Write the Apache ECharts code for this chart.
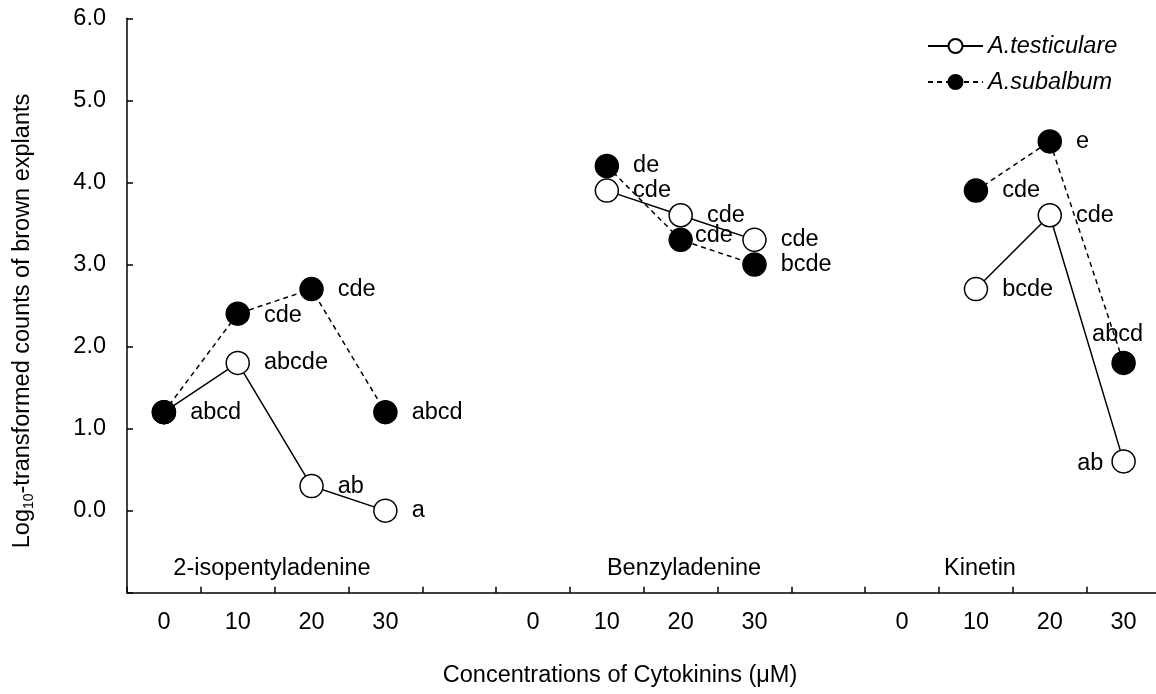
<!DOCTYPE html>
<html>
<head>
<meta charset="utf-8">
<script src="https://cdn.jsdelivr.net/npm/echarts@6/dist/echarts.min.js"></script>
<style>
  html, body { margin: 0; padding: 0; background: #fff; }
  #chart { width: 1156px; height: 694px; }
</style>
</head>
<body>
<div id="chart"></div>
<script>
// Concentration slots: three cytokinin blocks separated by an empty slot
const concentrations = ['0', '10', '20', '30', '', '0', '10', '20', '30', '', '0', '10', '20', '30'];
const cytokinins = ['2-isopentyladenine', 'Benzyladenine', 'Kinetin'];

// Log10-transformed counts of brown explants
const testiculare = [1.2, 1.8, 0.3, 0.0, null, null, 3.9, 3.6, 3.3, null, null, 2.7, 3.6, 0.6];
const subalbum    = [1.2, 2.4, 2.7, 1.2, null, null, 4.2, 3.3, 3.0, null, null, 3.9, 4.5, 1.8];

// Significance letters
const testiculareLetters = ['', 'abcde', 'ab', 'a', '', '', 'cde', 'cde', 'cde', '', '', 'bcde', 'cde', 'ab'];
const subalbumLetters    = ['abcd', 'cde', 'cde', 'abcd', '', '', 'de', 'cde', 'bcde', '', '', 'cde', 'e', 'abcd'];

const yTickValues = [0, 1, 2, 3, 4, 5, 6];

const FONT = '"Liberation Sans", Arial, Helvetica, sans-serif';
const FS = 23.5;

// Per-point label placement where letters would collide
const labelPlacement = {
  testiculare: { 13: { position: 'left', distance: 8, offset: [0, 2] } },
  subalbum: { 1: { offset: [0, 2] }, 7: { offset: [-12, -4] }, 13: { position: 'top', distance: 4, offset: [-6, 0] } }
};

function buildData(values, letters, placement) {
  return values.map((v, i) => {
    if (v === null) return null;
    const txt = letters[i];
    const lab = Object.assign({ show: txt !== '', formatter: txt }, placement[i] || {});
    return { value: v, label: lab };
  });
}

const chart = echarts.init(document.getElementById('chart'), null, { renderer: 'canvas' });

const grid = { left: 127, top: 18.3, width: 1033.5, bottom: 101.3, outerBoundsMode: 'none', containLabel: false };

const commonLabel = {
  show: true,
  position: 'right',
  distance: 14,
  color: '#000',
  fontFamily: FONT,
  fontSize: FS
};

chart.setOption({
  animation: false,
  backgroundColor: '#fff',
  textStyle: { fontFamily: FONT, color: '#000' },
  grid: grid,
  legend: {
    left: 927,
    top: 34,
    padding: 0,
    orient: 'vertical',
    itemWidth: 55,
    itemHeight: 17.5,
    itemGap: 12,
    textStyle: { fontFamily: FONT, fontSize: FS, fontStyle: 'italic', color: '#000', lineHeight: 24 },
    selectedMode: false,
    data: ['A.testiculare', 'A.subalbum']
  },
  xAxis: {
    type: 'category',
    data: concentrations,
    boundaryGap: true,
    axisLine: { show: true, onZero: false, lineStyle: { color: '#000', width: 1.5 } },
    axisTick: { show: true, inside: true, length: 6, interval: 0, lineStyle: { color: '#000', width: 1.5 } },
    axisLabel: { interval: 0, margin: 18, color: '#000', fontFamily: FONT, fontSize: FS },
    splitLine: { show: false }
  },
  yAxis: {
    type: 'value',
    min: -1,
    max: 6,
    interval: 1,
    axisLine: { show: true, onZero: false, lineStyle: { color: '#000', width: 1.5 } },
    axisTick: { show: true, inside: true, length: 6, lineStyle: { color: '#000', width: 1.5 } },
    axisLabel: {
      margin: 21,
      color: '#000',
      fontFamily: FONT,
      fontSize: FS,
      formatter: v => (yTickValues.indexOf(v) >= 0 ? v.toFixed(1) : '')
    },
    splitLine: { show: false }
  },
  series: [
    {
      name: 'A.testiculare',
      type: 'line',
      data: buildData(testiculare, testiculareLetters, labelPlacement.testiculare),
      connectNulls: false,
      symbol: 'circle',
      symbolSize: 23,
      lineStyle: { color: '#000', width: 1.5, type: 'solid' },
      itemStyle: { color: '#fff', borderColor: '#000', borderWidth: 1.5 },
      label: commonLabel,
      emphasis: { disabled: true }
    },
    {
      name: 'A.subalbum',
      type: 'line',
      data: buildData(subalbum, subalbumLetters, labelPlacement.subalbum),
      connectNulls: false,
      symbol: 'circle',
      symbolSize: 23,
      lineStyle: { color: '#000', width: 1.5, type: [5, 4] },
      itemStyle: { color: '#000', borderColor: '#000', borderWidth: 1.5 },
      label: commonLabel,
      emphasis: { disabled: true }
    }
  ]
});

// Cytokinin names inside the plot, axis titles
const nameY = chart.convertToPixel({ yAxisIndex: 0 }, -0.7);
const graphics = [
  { x: 272, text: cytokinins[0] },
  { x: 684, text: cytokinins[1] },
  { x: 980, text: cytokinins[2] }
].map(g => ({
  type: 'text',
  x: g.x,
  y: nameY,
  silent: true,
  style: { text: g.text, font: FS + 'px ' + FONT, fill: '#000', align: 'center', verticalAlign: 'middle' }
}));

graphics.push({
  type: 'text',
  x: 620,
  y: 676,
  silent: true,
  style: {
    text: 'Concentrations of Cytokinins (\u03BCM)',
    font: FS + 'px ' + FONT,
    fill: '#000',
    align: 'center',
    verticalAlign: 'middle'
  }
});

graphics.push({
  type: 'text',
  x: 23,
  y: 321,
  rotation: Math.PI / 2,
  silent: true,
  style: {
    text: '{n|Log}{s|10}{n|-transformed counts of brown explants}',
    align: 'center',
    verticalAlign: 'middle',
    fill: '#000',
    rich: {
      n: { fontFamily: FONT, fontSize: FS, lineHeight: 26, fill: '#000', verticalAlign: 'middle' },
      s: { fontFamily: FONT, fontSize: 14, lineHeight: 15, fill: '#000', verticalAlign: 'bottom' }
    }
  }
});

chart.setOption({ graphic: graphics });
</script>
</body>
</html>
